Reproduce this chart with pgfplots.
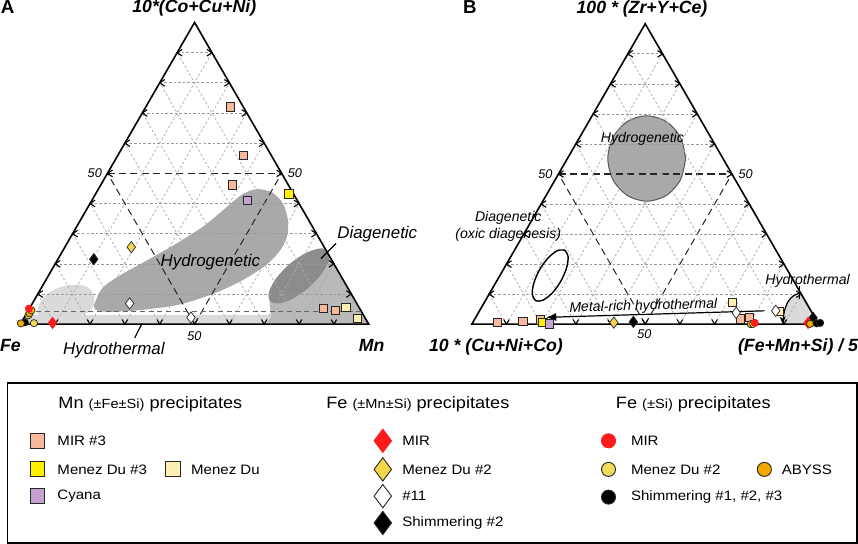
\documentclass[border=0pt]{standalone}
\usepackage{fontspec}
\setmainfont{Liberation Sans}
\newfontfamily\legfont{Liberation Sans}[FakeStretch=1.1]
\usepackage{pgfplots}
\pgfplotsset{compat=1.18}
\usetikzlibrary{arrows.meta}

\definecolor{salmon}{HTML}{F8B89B}
\definecolor{ylw}{HTML}{FFF000}
\definecolor{lylw}{HTML}{FDF0B5}
\definecolor{purp}{HTML}{C4A3D0}
\definecolor{gold}{HTML}{F3D64B}
\definecolor{abyss}{HTML}{F2A900}
\definecolor{mred}{HTML}{FF1B1B}
\definecolor{ycirc}{HTML}{F1DC5A}
\definecolor{lgrey}{HTML}{DADADA}
\definecolor{hgrey}{HTML}{A9A9AB}
\definecolor{mgrey}{HTML}{B9B9B9}
\definecolor{dgrey}{HTML}{8C8C8C}

\pgfplotsset{
  gridline/.style={gray!65, line width=0.35pt, dash pattern=on 1.3pt off 1pt},
  hgridline/.style={gray!80, line width=0.35pt, dash pattern=on 1.3pt off 1pt},
  fiftyline/.style={black!85, line width=0.5pt, dash pattern=on 3.5pt off 2.2pt},
  tickline/.style={black, line width=0.55pt},
  sq/.style={only marks, mark=square*, mark size=2.05pt, mark options={solid, fill=#1, draw=black!85, line width=0.35pt}},
  dm/.style={only marks, mark=diamond*, mark size=2.8pt, mark options={solid, fill=#1, draw=black!85, line width=0.35pt}},
  dmr/.style={only marks, mark=diamond*, mark size=2.8pt, mark options={solid, fill=mred, draw=mred, line width=0.35pt}},
  ci/.style={only marks, mark=*, mark size=1.8pt, mark options={solid, fill=#1, draw=black!85, line width=0.35pt}},
  cir/.style={only marks, mark=*, mark size=1.8pt, mark options={solid, fill=mred, draw=mred, line width=0.35pt}},
  lsq/.style={only marks, mark=square*, mark size=3.7pt, mark options={solid, fill=#1, draw=black!85, line width=0.45pt}},
  ldm/.style={only marks, mark=diamond*, mark size=5.8pt, mark options={solid, fill=#1, draw=black!85, line width=0.45pt}},
  ldmr/.style={only marks, mark=diamond*, mark size=5.8pt, mark options={solid, fill=mred, draw=mred, line width=0.45pt}},
  lci/.style={only marks, mark=*, mark size=3.5pt, mark options={solid, fill=#1, draw=black!85, line width=0.45pt}},
  lcir/.style={only marks, mark=*, mark size=3.5pt, mark options={solid, fill=mred, draw=mred, line width=0.45pt}},
}

% grid and ticks of a ternary frame: #1 = x of left vertex, #2 = x of right vertex, #3 = y of base
\newcommand\ternary[3]{%
  \pgfmathsetmacro\tS{#2-#1}%
  \pgfmathsetmacro\tH{\tS*0.8660254}%
  \pgfplotsforeachungrouped \tk in {1,2,...,9}{%
    \pgfmathsetmacro\fr{\tk/10}%
    \ifnum\tk=5 \def\gsty{fiftyline}\def\hsty{fiftyline}\else\def\gsty{gridline}\def\hsty{hgridline}\fi
    \pgfmathsetmacro\xa{#1+\fr*\tS/2}%
    \pgfmathsetmacro\xb{#2-\fr*\tS/2}%
    \pgfmathsetmacro\yy{#3-\fr*\tH}%
    \pgfmathsetmacro\xc{#1+\fr*\tS}%
    \pgfmathsetmacro\xd{#2-(1-\fr)*\tS/2}%
    \pgfmathsetmacro\yd{#3-(1-\fr)*\tH}%
    \pgfmathsetmacro\xal{\xa+5}%
    \pgfmathsetmacro\xbl{\xb-5}%
    \pgfmathsetmacro\yu{\yy-3.3}%
    \pgfmathsetmacro\yl{\yy+3.3}%
    \pgfmathsetmacro\xcl{\xc-2.7}%
    \pgfmathsetmacro\xcr{\xc+2.7}%
    \pgfmathsetmacro\ybt{#3-4.6}%
    \edef\tmp{%
      \noexpand\addplot[\hsty] coordinates {(\xa,\yy) (\xb,\yy)};
      \noexpand\addplot[\gsty] coordinates {(\xc,#3) (\xd,\yd)};
      \noexpand\addplot[\gsty] coordinates {(\xc,#3) (\xa,\yy)};
      \noexpand\addplot[tickline] coordinates {(\xal,\yu) (\xa,\yy) (\xal,\yl)};
      \noexpand\addplot[tickline] coordinates {(\xbl,\yu) (\xb,\yy) (\xbl,\yl)};
      \noexpand\addplot[tickline] coordinates {(\xcl,\ybt) (\xc,#3) (\xcr,\ybt)};
    }\tmp
  }%
}

\tikzset{
  lab/.style={font=\bfseries\itshape\fontsize{8.8}{10}\selectfont, inner sep=0pt},
  reg/.style={font=\itshape\fontsize{8.4}{10}\selectfont, inner sep=0pt},
  regs/.style={font=\itshape\fontsize{7}{8.5}\selectfont, inner sep=0pt},
  fifty/.style={font=\itshape\fontsize{6.3}{7}\selectfont, inner sep=0pt},
  lt/.style={anchor=west, inner sep=0pt, font=\legfont\fontsize{6.8}{8}\selectfont},
  lh/.style={anchor=west, inner sep=0pt, font=\legfont\fontsize{8.2}{10}\selectfont},
}

\begin{document}
\begin{tikzpicture}
\begin{axis}[width=429pt, height=274pt, scale only axis,
  xmin=0, xmax=858, ymin=0, ymax=548, y dir=reverse,
  hide axis, clip=false]

% ---------------- panel A regions ----------------
\addplot[fill=lgrey, draw=none] coordinates {(23,327.3) (28.2,318.3) (364.3,318.3) (369.5,327.3)} -- cycle;
\addplot[fill=lgrey, draw=none, smooth] coordinates {(40,320) (41,309) (50,297) (64,290) (79,288) (90,290.5) (96,298) (96,308) (90,316) (72,320.5) (50,321) (40,320)} -- cycle;
\addplot[fill=hgrey, draw=none, smooth] coordinates {(96,309) (104,292) (120,280) (145,266) (175,249) (205,230) (228,211) (244,198) (258,193) (273,196) (284,207) (289,223) (288.5,239) (282,253) (268,268) (245,283) (215,297) (180,308) (140,313.5) (110,315) (98,313) (96,309)} -- cycle;
\addplot[fill=mgrey, draw=none, smooth] coordinates {(325.8,251.5) (318,252.5) (305,257.5) (290,268) (278,281) (271.5,295) (271,308) (272.5,320) (275,327.3) (369.5,327.3)} -- cycle;
\addplot[fill=dgrey, draw=none, smooth] coordinates {(328.7,254.6) (329.8,263.6) (322.9,276.8) (309.8,290.8) (294.2,301.8) (280.1,306.7) (271.3,304.4) (270.2,295.4) (277.1,282.2) (290.2,268.2) (305.8,257.2) (319.9,252.3) (328.7,254.6)} -- cycle;

% ---------------- panel B regions ----------------
\addplot[fill=hgrey, draw=black!65, line width=0.5pt, smooth] coordinates {(684.7,162.5) (679.5,141.3) (665.4,125.7) (646,120) (626.7,125.7) (612.5,141.3) (607.3,162.5) (612.5,183.8) (626.7,199.3) (646,205) (665.4,199.3) (679.5,183.8) (684.7,162.5)} -- cycle;
\addplot[fill=lgrey, draw=none, smooth] coordinates {(799.2,296) (792,299) (786.5,305) (783,314) (781.8,322) (782,327.3) (817,327.3)} -- cycle;

% ---------------- grids, ticks, frames ----------------
\ternary{23}{369.5}{327.3}
\ternary{472}{817}{327.3}
\addplot[black, line width=0.8pt] coordinates {(23,327.3) (369.5,327.3) (196.25,27.2)} -- cycle;
\addplot[black, line width=0.8pt] coordinates {(472,327.3) (817,327.3) (644.5,28.5)} -- cycle;

% extra lines and outlines
\addplot[black!60, line width=0.5pt, dash pattern=on 2.5pt off 1.8pt] coordinates {(30.3,314.3) (361.7,314.3)};
\addplot[black, line width=0.6pt] coordinates {(337,247) (322,262)};
\addplot[black, line width=0.6pt] coordinates {(136.7,341) (144,326.5)};
\addplot[black, line width=0.7pt, smooth] coordinates {(564.5,253.7) (567.8,260.1) (566.25,271.4) (560.4,284.8) (551.75,296.6) (542.6,303.5) (535.5,303.9) (532.2,297.5) (533.75,286.2) (539.6,272.8) (548.25,261) (557.4,254) (564.5,253.7)};
\addplot[black, line width=0.6pt, smooth, -{Stealth[length=3.5pt, width=3pt]}] coordinates {(799.2,296) (792,299) (786.5,305) (783,314) (781.8,322) (782,326.5)};
\addplot[black, line width=0.6pt] coordinates {(798.3,289) (798.3,302)};
\addplot[black, line width=0.6pt, -{Latex[length=5pt, width=4pt]}] coordinates {(763,314) (546,320.5)};

% ---------------- data points, panel A ----------------
\addplot[sq=salmon] coordinates {(231.7,111) (245,159) (233.7,188.7) (324.3,311.7) (336,313.3)};
\addplot[sq=ylw] coordinates {(290,197.7)};
\addplot[sq=purp] coordinates {(249,204)};
\addplot[sq=lylw] coordinates {(346.7,310.7) (358.3,321.3)};
\addplot[dmr] coordinates {(55,326)};
\addplot[dm=gold] coordinates {(133.3,250.7)};
\addplot[dm=white] coordinates {(131.7,306.7) (192.7,320.7)};
\addplot[dm=black] coordinates {(96,262.7)};
\addplot[ci=ycirc] coordinates {(31,318.5) (36.5,326.3)};
\addplot[ci=black] coordinates {(27.5,325.5)};
\addplot[ci=abyss] coordinates {(23.5,326.5) (32,316.5) (34,313.5)};
\addplot[cir] coordinates {(31.5,311.8)};

% ---------------- data points, panel B ----------------
\addplot[sq=salmon] coordinates {(497.5,325.8) (522.7,324.2) (540.5,323) (739.5,322) (748,320.7)};
\addplot[sq=ylw] coordinates {(542.7,325.7)};
\addplot[sq=purp] coordinates {(549.3,327)};
\addplot[sq=lylw] coordinates {(731,305.7) (777.7,314.2)};
\addplot[dm=gold] coordinates {(613.3,325.7)};
\addplot[dm=black] coordinates {(632.7,325) (811.5,321)};
\addplot[dm=white] coordinates {(735,316) (774.3,314)};
\addplot[dmr] coordinates {(806.5,326)};
\addplot[ci=abyss] coordinates {(749.5,327.3) (808.5,327)};
\addplot[ci=ycirc] coordinates {(752,327)};
\addplot[cir] coordinates {(753.5,326)};
\addplot[ci=black] coordinates {(815,326.5) (818.5,326)};

% ---------------- texts ----------------
\node[font=\bfseries\fontsize{9.3}{10}\selectfont, inner sep=0pt, anchor=base] at (axis cs:10.3,18.3) {A};
\node[font=\bfseries\fontsize{9.3}{10}\selectfont, inner sep=0pt, anchor=base] at (axis cs:470,18.3) {B};
\node[lab, anchor=base] at (axis cs:196,17.6) {10*(Co+Cu+Ni)};
\node[lab, anchor=base] at (axis cs:641.3,18) {100 * (Zr+Y+Ce)};
\node[lab, anchor=base] at (axis cs:13,354.3) {Fe};
\node[lab, anchor=base] at (axis cs:372.5,354.3) {Mn};
\node[lab, anchor=base] at (axis cs:496,354.3) {10 * (Cu+Ni+Co)};
\node[lab, anchor=base] at (axis cs:796.5,354.3) {(Fe+Mn+Si) / 5};

\node[fifty] at (axis cs:97,177.3) {50};
\node[fifty] at (axis cs:296,177.3) {50};
\node[fifty] at (axis cs:196,339.3) {50};
\node[fifty] at (axis cs:545.3,178) {50};
\node[fifty] at (axis cs:744.3,178) {50};
\node[fifty] at (axis cs:643.7,337.2) {50};

\node[reg, anchor=base] at (axis cs:212,270.2) {Hydrogenetic};
\node[reg, anchor=base] at (axis cs:378,242.2) {Diagenetic};
\node[reg, anchor=base] at (axis cs:116,357) {Hydrothermal};
\node[regs, anchor=base] at (axis cs:641.7,146.7) {Hydrogenetic};
\node[regs, anchor=base] at (axis cs:508.3,225) {Diagenetic};
\node[regs, anchor=base] at (axis cs:508.3,242) {(oxic diagenesis)};
\node[regs, anchor=base] at (axis cs:806,288.3) {Hydrothermal};
\node[regs, anchor=base, rotate=1.5] at (axis cs:642.7,313.3) {Metal-rich hydrothermal};

% ---------------- legend ----------------
\addplot[black, line width=0.8pt] coordinates {(10,386) (855,386) (855,545) (10,545)} -- cycle;
\node[lh] at (axis cs:60.5,407) {Mn {\fontsize{6.6}{8}\selectfont(±Fe±Si)} precipitates};
\node[lh] at (axis cs:327,407) {Fe {\fontsize{6.6}{8}\selectfont(±Mn±Si)} precipitates};
\node[lh] at (axis cs:615,407) {Fe {\fontsize{6.6}{8}\selectfont(±Si)} precipitates};

\addplot[lsq=salmon] coordinates {(40,443.3)};
\addplot[lsq=ylw] coordinates {(40,471.7)};
\addplot[lsq=lylw] coordinates {(175,471.7)};
\addplot[lsq=purp] coordinates {(40,498.3)};
\node[lt] at (axis cs:59.5,443.3) {MIR \#3};
\node[lt] at (axis cs:59.5,471.7) {Menez Du \#3};
\node[lt] at (axis cs:192.5,471.7) {Menez Du};
\node[lt] at (axis cs:59.5,498.3) {Cyana};

\addplot[ldmr] coordinates {(383.5,443.3)};
\addplot[ldm=gold] coordinates {(383.5,471.7)};
\addplot[ldm=white] coordinates {(383.5,498.3)};
\addplot[ldm=black] coordinates {(383.5,525)};
\node[lt] at (axis cs:402.5,443.3) {MIR};
\node[lt] at (axis cs:402.5,471.7) {Menez Du \#2};
\node[lt] at (axis cs:402.5,498.3) {\#11};
\node[lt] at (axis cs:402.5,525) {Shimmering \#2};

\addplot[lcir] coordinates {(608,443.3)};
\addplot[lci=ycirc] coordinates {(608,471.7)};
\addplot[lci=abyss] coordinates {(763,471.7)};
\addplot[lci=black] coordinates {(608,499.3)};
\node[lt] at (axis cs:630,443.3) {MIR};
\node[lt] at (axis cs:630,471.7) {Menez Du \#2};
\node[lt] at (axis cs:780,471.7) {ABYSS};
\node[lt] at (axis cs:630,499.3) {Shimmering \#1, \#2, \#3};

\end{axis}
\end{tikzpicture}
\end{document}
